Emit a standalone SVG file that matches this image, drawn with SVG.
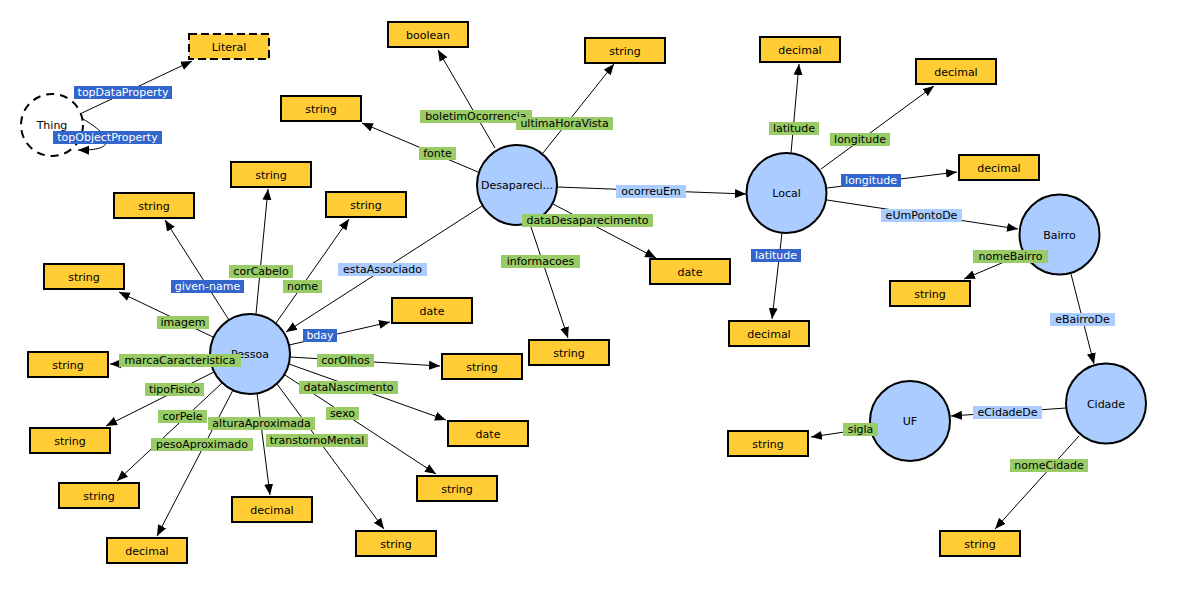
<svg xmlns="http://www.w3.org/2000/svg" width="1194" height="589" viewBox="0 0 1194 589">
<defs>
<marker id="arr" markerUnits="userSpaceOnUse" markerWidth="12" markerHeight="10" viewBox="0 -5 12 10" refX="11" refY="0" orient="auto"><path d="M0,-4.5 L11,0 L0,4.5 z" fill="#000"/></marker>
<style>
text{font-family:"DejaVu Sans","Liberation Sans",sans-serif;font-size:11px;text-anchor:middle;fill:#000}
.ln{stroke:#000;stroke-width:1;fill:none;marker-end:url(#arr)}
.box{fill:#ffcc33;stroke:#000;stroke-width:2}
.cls{fill:#aaccff;stroke:#000;stroke-width:2}
.g{fill:#99cc66}
.lb{fill:#aaccff}
.db{fill:#3366cc}
.wt{fill:#fff}
</style>
</defs>
<rect width="1194" height="589" fill="#fff"/>
<g id="connectors">
<line class="ln" x1="82" y1="113" x2="192" y2="61"/>
<path class="ln" d="M83,119 C112,136 118,151 78,150"/>
<line class="ln" x1="495" y1="148" x2="438" y2="50"/>
<line class="ln" x1="543" y1="153" x2="614" y2="64"/>
<line class="ln" x1="478" y1="172" x2="362" y2="123"/>
<line class="ln" x1="557" y1="187" x2="746" y2="194"/>
<line class="ln" x1="553" y1="204" x2="656" y2="258"/>
<line class="ln" x1="530" y1="224" x2="568" y2="338"/>
<line class="ln" x1="482" y1="206" x2="286" y2="332"/>
<line class="ln" x1="229" y1="320" x2="165" y2="220"/>
<line class="ln" x1="256" y1="314" x2="268" y2="189"/>
<line class="ln" x1="276" y1="323" x2="349" y2="219"/>
<line class="ln" x1="213" y1="337" x2="119" y2="292"/>
<line class="ln" x1="212" y1="362" x2="110" y2="364"/>
<line class="ln" x1="214" y1="372" x2="106" y2="426"/>
<line class="ln" x1="222" y1="383" x2="117" y2="481"/>
<line class="ln" x1="233" y1="390" x2="157" y2="536"/>
<line class="ln" x1="257" y1="393" x2="270" y2="495"/>
<line class="ln" x1="277" y1="384" x2="384" y2="529"/>
<line class="ln" x1="285" y1="375" x2="436" y2="474"/>
<line class="ln" x1="289" y1="364" x2="446" y2="420"/>
<line class="ln" x1="290" y1="357" x2="440" y2="366"/>
<line class="ln" x1="289" y1="345" x2="390" y2="322"/>
<line class="ln" x1="791" y1="153" x2="799" y2="64"/>
<line class="ln" x1="821" y1="169" x2="934" y2="86"/>
<line class="ln" x1="827" y1="188" x2="957" y2="172"/>
<line class="ln" x1="827" y1="200" x2="1018" y2="229"/>
<line class="ln" x1="782" y1="233" x2="772" y2="319"/>
<line class="ln" x1="1030" y1="251" x2="964" y2="279"/>
<line class="ln" x1="1071" y1="274" x2="1094" y2="364"/>
<line class="ln" x1="1066" y1="408" x2="951" y2="416"/>
<line class="ln" x1="1079" y1="436" x2="995" y2="529"/>
<line class="ln" x1="871" y1="428" x2="811" y2="437"/>
</g>
<g id="thing"><circle cx="52" cy="125" r="31" fill="#fff" stroke="#000" stroke-width="2" stroke-dasharray="8,6"/><text x="52" y="129">Thing</text></g>
<g id="literal"><rect x="189" y="34" width="80" height="25" class="box" stroke-dasharray="8,4"/><text x="229" y="51">Literal</text></g>
<g id="desaparecimento"><circle class="cls" cx="517" cy="185" r="40"/><text x="517" y="189">Desapareci...</text></g>
<g id="pessoa"><circle class="cls" cx="250" cy="354" r="40"/><text x="250" y="358">Pessoa</text></g>
<g id="local"><circle class="cls" cx="786.5" cy="193" r="40"/><text x="786.5" y="197">Local</text></g>
<g id="bairro"><circle class="cls" cx="1059.5" cy="234.5" r="40"/><text x="1059.5" y="238.5">Bairro</text></g>
<g id="cidade"><circle class="cls" cx="1106" cy="403.5" r="40"/><text x="1106" y="407.5">Cidade</text></g>
<g id="uf"><circle class="cls" cx="910" cy="421" r="40"/><text x="910" y="425">UF</text></g>
<g id="dt-boolean"><rect class="box" x="388" y="22" width="80" height="25"/><text x="428" y="39">boolean</text></g>
<g id="dt-string-uhv"><rect class="box" x="585" y="38" width="80" height="25"/><text x="625" y="55">string</text></g>
<g id="dt-string-fonte"><rect class="box" x="281" y="96" width="80" height="25"/><text x="321" y="113">string</text></g>
<g id="dt-string-corcabelo"><rect class="box" x="231" y="162" width="80" height="25"/><text x="271" y="179">string</text></g>
<g id="dt-string-nome"><rect class="box" x="326" y="192" width="80" height="25"/><text x="366" y="209">string</text></g>
<g id="dt-string-givenname"><rect class="box" x="114" y="193" width="80" height="25"/><text x="154" y="210">string</text></g>
<g id="dt-string-imagem"><rect class="box" x="44" y="264" width="80" height="25"/><text x="84" y="281">string</text></g>
<g id="dt-string-marca"><rect class="box" x="28" y="352" width="80" height="25"/><text x="68" y="369">string</text></g>
<g id="dt-string-tipofisico"><rect class="box" x="30" y="428" width="80" height="25"/><text x="70" y="445">string</text></g>
<g id="dt-string-corpele"><rect class="box" x="59" y="483" width="80" height="25"/><text x="99" y="500">string</text></g>
<g id="dt-decimal-peso"><rect class="box" x="107" y="538" width="80" height="25"/><text x="147" y="555">decimal</text></g>
<g id="dt-decimal-altura"><rect class="box" x="232" y="497" width="80" height="25"/><text x="272" y="514">decimal</text></g>
<g id="dt-string-transtorno"><rect class="box" x="356" y="531" width="80" height="25"/><text x="396" y="548">string</text></g>
<g id="dt-string-sexo"><rect class="box" x="417" y="476" width="80" height="25"/><text x="457" y="493">string</text></g>
<g id="dt-date-nasc"><rect class="box" x="448" y="421" width="80" height="25"/><text x="488" y="438">date</text></g>
<g id="dt-string-corolhos"><rect class="box" x="442" y="354" width="80" height="25"/><text x="482" y="371">string</text></g>
<g id="dt-date-bday"><rect class="box" x="392" y="298" width="80" height="25"/><text x="432" y="315">date</text></g>
<g id="dt-string-info"><rect class="box" x="529" y="340" width="80" height="25"/><text x="569" y="357">string</text></g>
<g id="dt-date-desap"><rect class="box" x="650" y="259" width="80" height="25"/><text x="690" y="276">date</text></g>
<g id="dt-decimal-lat1"><rect class="box" x="760" y="37" width="80" height="25"/><text x="800" y="54">decimal</text></g>
<g id="dt-decimal-lon1"><rect class="box" x="916" y="59" width="80" height="25"/><text x="956" y="76">decimal</text></g>
<g id="dt-decimal-lon2"><rect class="box" x="959" y="155" width="80" height="25"/><text x="999" y="172">decimal</text></g>
<g id="dt-decimal-lat2"><rect class="box" x="729" y="321" width="80" height="25"/><text x="769" y="338">decimal</text></g>
<g id="dt-string-bairro"><rect class="box" x="890" y="281" width="80" height="25"/><text x="930" y="298">string</text></g>
<g id="dt-string-sigla"><rect class="box" x="728" y="431" width="80" height="25"/><text x="768" y="448">string</text></g>
<g id="dt-string-cidade"><rect class="box" x="940" y="531" width="80" height="25"/><text x="980" y="548">string</text></g>
<g id="connector-labels">
<rect class="db" x="74" y="86" width="98" height="13"/><text class="wt" x="123" y="96">topDataProperty</text>
<rect class="db" x="53" y="131" width="109" height="13"/><text class="wt" x="107.5" y="141">topObjectProperty</text>
<rect class="g" x="420" y="110" width="112" height="13"/><text x="476" y="120">boletimOcorrencia</text>
<rect class="g" x="516" y="117" width="97" height="13"/><text x="564.5" y="127">ultimaHoraVista</text>
<rect class="g" x="419" y="147" width="37" height="13"/><text x="437.5" y="157">fonte</text>
<rect class="lb" x="616" y="185" width="70" height="13"/><text x="651" y="195">ocorreuEm</text>
<rect class="g" x="522" y="214" width="131" height="13"/><text x="587.5" y="224">dataDesaparecimento</text>
<rect class="g" x="501" y="255" width="79" height="13"/><text x="540.5" y="265">informacoes</text>
<rect class="lb" x="338" y="263" width="89" height="13"/><text x="382.5" y="273">estaAssociado</text>
<rect class="g" x="229" y="265" width="64" height="13"/><text x="261" y="275">corCabelo</text>
<rect class="db" x="171" y="280" width="73" height="13"/><text class="wt" x="207.5" y="290">given-name</text>
<rect class="g" x="283" y="280" width="39" height="13"/><text x="302.5" y="290">nome</text>
<rect class="g" x="157" y="316" width="52" height="13"/><text x="183" y="326">imagem</text>
<rect class="db" x="303" y="329" width="34" height="13"/><text class="wt" x="320" y="339">bday</text>
<rect class="g" x="119" y="354" width="122" height="13"/><text x="180" y="364">marcaCaracteristica</text>
<rect class="g" x="317" y="354" width="57" height="13"/><text x="345.5" y="364">corOlhos</text>
<rect class="g" x="299" y="381" width="99" height="13"/><text x="348.5" y="391">dataNascimento</text>
<rect class="g" x="145" y="383" width="59" height="13"/><text x="174.5" y="393">tipoFisico</text>
<rect class="g" x="326" y="407" width="33" height="13"/><text x="342.5" y="417">sexo</text>
<rect class="g" x="158" y="410" width="49" height="13"/><text x="182.5" y="420">corPele</text>
<rect class="g" x="208" y="417" width="107" height="13"/><text x="261.5" y="427">alturaAproximada</text>
<rect class="g" x="266" y="434" width="102" height="13"/><text x="317" y="444">transtornoMental</text>
<rect class="g" x="151" y="438" width="102" height="13"/><text x="202" y="448">pesoAproximado</text>
<rect class="g" x="769" y="122" width="50" height="13"/><text x="794" y="132">latitude</text>
<rect class="g" x="830" y="133" width="60" height="13"/><text x="860" y="143">longitude</text>
<rect class="db" x="841" y="174" width="60" height="13"/><text class="wt" x="871" y="184">longitude</text>
<rect class="lb" x="881" y="209" width="81" height="13"/><text x="921.5" y="219">eUmPontoDe</text>
<rect class="db" x="751" y="249" width="50" height="13"/><text class="wt" x="776" y="259">latitude</text>
<rect class="g" x="973" y="250" width="75" height="13"/><text x="1010.5" y="260">nomeBairro</text>
<rect class="lb" x="1050" y="313" width="65" height="13"/><text x="1082.5" y="323">eBairroDe</text>
<rect class="lb" x="973" y="406" width="69" height="13"/><text x="1007.5" y="416">eCidadeDe</text>
<rect class="g" x="843" y="423" width="35" height="13"/><text x="860.5" y="433">sigla</text>
<rect class="g" x="1010" y="459" width="78" height="13"/><text x="1049" y="469">nomeCidade</text>
</g>
</svg>
